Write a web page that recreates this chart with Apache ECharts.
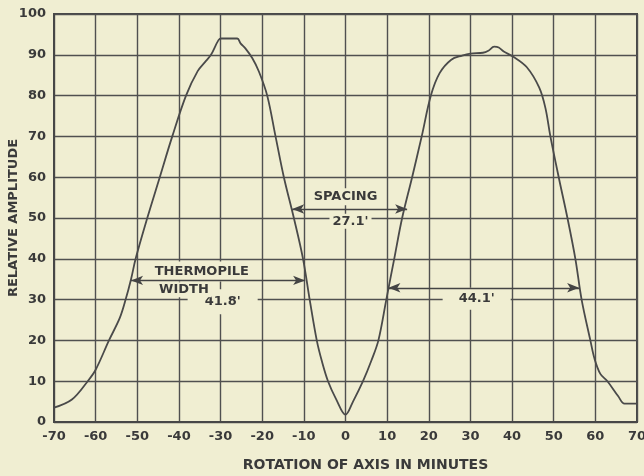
<!DOCTYPE html>
<html><head><meta charset="utf-8">
<script src="https://cdn.jsdelivr.net/npm/echarts@6/dist/echarts.min.js"></script>
<style>html,body{margin:0;padding:0;background:#f0eed2}#c{width:644px;height:476px}</style>
</head><body><div id="c"></div>
<script>
// Rotation of axis (minutes) and relative amplitude
const rotation = [-70, -65.7, -61.9, -60, -56.8, -54.2, -52.8, -51.5, -50.4, -47.6, -44.6, -41.6, -38.3, -35.5, -33.5, -32.3, -30.5, -29.8, -26, -25.2, -24, -22.4, -20.8, -18.8, -16.8, -14.8, -12.4, -10.2, -8.6, -6.9, -5.7, -4.2, -2.2, 0,
  1.8, 4.2, 6.2, 7.9, 9.8, 11.7, 13.6, 16.0, 18.3, 20.5, 22.6, 25.4, 28, 30, 33, 34.3, 35.7, 36.8, 38, 40.2, 43.5, 46.5, 48, 49.2, 51.2, 53.3, 55.2, 56.7, 58.8, 59.8, 61.2, 62.9, 65.5, 67, 70];
const amplitude = [3.5, 5.5, 10, 12.8, 20, 25.5, 30, 35, 40, 50, 60, 70, 80, 86, 88.5, 90, 93.6, 94, 94, 92.8, 91.5, 89.2, 85.9, 80, 70, 60, 50, 40, 30, 20, 15, 10, 5.5, 1.8,
  5, 10, 15, 20, 30, 40, 50, 60, 70, 80, 85.5, 88.8, 89.8, 90.3, 90.5, 91, 92, 91.8, 90.8, 89.6, 87, 82, 77, 70, 60, 50, 40, 30, 20, 15.5, 11.8, 10, 6.3, 4.5, 4.5];

// Dimension arrows (data units)
const arrowLevel = [34.7, 52.2, 32.9];
const arrowFrom = [-51.5, -12.8, 10.3];
const arrowTo = [-9.7, 14.8, 56.1];

// Annotation texts and their anchor points (data units)
const noteText = ['THERMOPILE', "41.8'", 'WIDTH', 'SPACING', "27.1'", "44.1'"];
const noteX = [-34.5, -29.5, -38.8, 0, 1.2, 31.5];
const noteY = [36.9, 29.5, 32.4, 55.2, 49.2, 30.2];
const notePad = [[6, 4, 1, 4], [2, 17, 10, 17], [1, 3, 1, 3], [2, 4, 2, 4], [1, 3, 1, 3], [1, 16, 8, 16]];

const xMin = -70, xMax = 70, xStep = 10;
const yMin = 0, yMax = 100, yStep = 10;

const PAPER = '#f0eed2';
const INK = '#474747';
const FONT = 'DejaVu Sans';

const chart = echarts.init(document.getElementById('c'), null, { renderer: 'canvas' });
const points = rotation.map((x, i) => [x, amplitude[i]]);

chart.setOption({
  backgroundColor: PAPER,
  animation: false,
  grid: { left: 54, right: 7, top: 14, bottom: 54, containLabel: false, outerBoundsMode: 'none',
    show: true, borderColor: INK, borderWidth: 2, backgroundColor: 'transparent' },
  xAxis: {
    type: 'value', min: xMin, max: xMax, interval: xStep,
    axisLine: { show: true, onZero: false, lineStyle: { color: INK, width: 2 } },
    axisTick: { show: false },
    splitLine: { show: true, lineStyle: { color: '#505050', width: 1.4 } },
    axisLabel: { color: '#3a3a3a', fontFamily: FONT, fontWeight: 'bold', fontSize: 13, margin: 8 },
    name: 'ROTATION OF AXIS IN MINUTES', nameLocation: 'middle', nameGap: 36, nameMoveOverlap: false,
    nameTextStyle: { color: '#3a3a3a', fontFamily: FONT, fontWeight: 'bold', fontSize: 14, padding: [0, 0, 0, 40] }
  },
  yAxis: {
    type: 'value', min: yMin, max: yMax, interval: yStep,
    axisLine: { show: true, onZero: false, lineStyle: { color: INK, width: 2 } },
    axisTick: { show: false },
    splitLine: { show: true, lineStyle: { color: '#505050', width: 1.4 } },
    axisLabel: { color: '#3a3a3a', fontFamily: FONT, fontWeight: 'bold', fontSize: 13, margin: 8 },
    name: 'RELATIVE AMPLITUDE', nameLocation: 'middle', nameGap: 34, nameMoveOverlap: false,
    nameTextStyle: { color: '#3a3a3a', fontFamily: FONT, fontWeight: 'bold', fontSize: 13 }
  },
  series: [{
    type: 'line', data: points, showSymbol: false, smooth: 0.35,
    lineStyle: { color: '#4a4a4a', width: 1.8 }, z: 4,
    markLine: {
      silent: true, z: 6, symbol: ['arrow', 'arrow'], symbolSize: [7, 12],
      label: { show: false },
      lineStyle: { color: '#444', width: 1.4, type: 'solid' },
      data: arrowLevel.map((y, i) => [{ coord: [arrowFrom[i], y] }, { coord: [arrowTo[i], y] }])
    }
  }]
});

const texts = noteText.map((t, i) => {
  const p = chart.convertToPixel({ gridIndex: 0 }, [noteX[i], noteY[i]]);
  return {
    type: 'text', x: p[0], y: p[1], z: 3,
    style: {
      text: t, fill: '#3a3a3a', font: 'bold 13px "' + FONT + '"',
      align: 'center', verticalAlign: 'middle',
      backgroundColor: PAPER, padding: notePad[i]
    }
  };
});
chart.setOption({ graphic: texts });
</script></body></html>
